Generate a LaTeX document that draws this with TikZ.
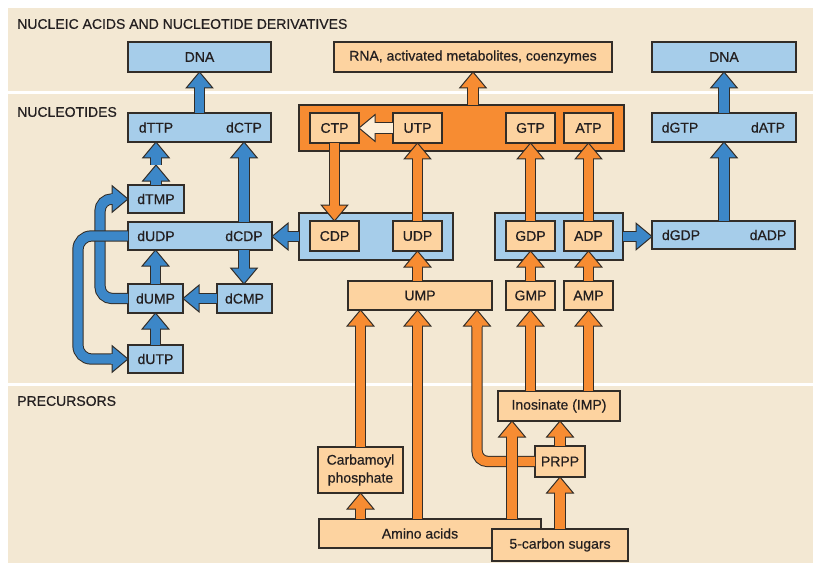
\documentclass[tikz,border=0pt]{standalone}
\usepackage{fontspec}
\setmainfont{Liberation Sans}[BoldFont={Liberation Sans}, BoldFeatures={FakeBold=0.6}]
\usetikzlibrary{calc}
\definecolor{bgc}{RGB}{243,232,211}
\definecolor{lb}{RGB}{166,205,234}
\definecolor{ab}{RGB}{60,135,200}
\definecolor{lo}{RGB}{253,211,160}
\definecolor{ao}{RGB}{247,140,50}
\definecolor{lc}{RGB}{50,45,40}
\definecolor{txt}{RGB}{35,31,32}
\definecolor{cream}{RGB}{253,238,215}
\tikzset{
  shaft/.style={draw=lc, line width=0.75pt, double=#1, double distance=7pt},
  bbox/.style={draw=lc, line width=0.9pt, fill=lb, inner sep=0pt, outer sep=0pt, text=txt, font=\fontsize{10.5}{13.5}\selectfont\bfseries},
  obox/.style={bbox, fill=lo},
  ocbox/.style={bbox, fill=ao},
  lab/.style={inner sep=0pt, text=txt, font=\fontsize{10.5}{13.5}\selectfont\bfseries},
}
\newcommand\bx[7]{%
  \pgfmathsetmacro\bxw{(#5-#3)*0.75}%
  \pgfmathsetmacro\bxh{(#6-#4)*0.75}%
  \node[#2, minimum width=\bxw pt, minimum height=\bxh pt] (#1) at ({(#3+#5)/2},{(#4+#6)/2}) {#7};%
}
\newcommand\headfrom[3]{%
  \coordinate (hS) at #2;
  \coordinate (hT) at #3;
  \coordinate (hb) at ($(hT)!12pt!(hS)$);
  \filldraw[fill=#1, draw=lc, line width=0.75pt, line join=miter]
    ($(hb)!10pt!90:(hT)$) -- (hT) -- ($(hb)!10pt!-90:(hT)$) -- cycle;
  \draw[#1, line width=7pt] ($(hb)!1pt!(hS)$) -- ($(hb)!1.5pt!(hT)$);
}
\newcommand\barr[3]{%
  \coordinate (aS) at #2;
  \coordinate (aT) at #3;
  \draw[shaft=#1] (aS) -- ($(aT)!11.5pt!(aS)$);
  \headfrom{#1}{(aS)}{(aT)}
}
\begin{document}
\begin{tikzpicture}[x=0.75pt, y=-0.75pt]
\useasboundingbox (0,0) rectangle (813,563);
\fill[white] (0,0) rectangle (813,563);
\fill[bgc] (8,8) rectangle (813,563);
\fill[white] (8,91.5) rectangle (813,94.5);
\fill[white] (8,383) rectangle (813,386);
\node[lab, anchor=west] (h1) at (17,24) {NUCLEIC ACIDS AND NUCLEOTIDE DERIVATIVES};
\node[lab, anchor=west] (h2) at (17,112) {NUCLEOTIDES};
\node[lab, anchor=west] (h3) at (17,401) {PRECURSORS};
% top row
\bx{dnaL}{bbox}{128}{42}{271}{72}{DNA}
\bx{rna}{obox}{334}{42}{612}{72}{RNA, activated metabolites, coenzymes}
\bx{dnaR}{bbox}{652}{42}{796}{72}{DNA}
% nucleotides
\bx{ntpL}{bbox}{128}{113}{271}{142}{}
\node[lab] (dTTP) at (156,127.5) {dTTP};
\node[lab] (dCTP) at (244,127.5) {dCTP};
\bx{oc}{ocbox}{299}{105}{624}{151}{}
\bx{CTP}{obox}{310}{113}{359}{143}{CTP}
\bx{UTP}{obox}{393}{113}{442}{143}{UTP}
\bx{GTP}{obox}{506}{113}{555}{143}{GTP}
\bx{ATP}{obox}{564}{113}{613}{143}{ATP}
\bx{ntpR}{bbox}{652}{113}{796}{142}{}
\node[lab] (dGTP) at (680,127.5) {dGTP};
\node[lab] (dATP) at (768,127.5) {dATP};
\bx{dTMP}{bbox}{128}{185}{184}{213}{dTMP}
\bx{ndpL}{bbox}{128}{222}{272}{250}{}
\node[lab] (dUDP) at (156,236) {dUDP};
\node[lab] (dCDP) at (244,236) {dCDP};
\bx{cu}{bbox}{299}{213}{453}{260}{}
\bx{CDP}{obox}{310}{221}{359}{251}{CDP}
\bx{UDP}{obox}{393}{221}{442}{251}{UDP}
\bx{ga}{bbox}{495}{213}{623}{260}{}
\bx{GDP}{obox}{506}{221}{555}{251}{GDP}
\bx{ADP}{obox}{564}{221}{613}{251}{ADP}
\bx{ndpR}{bbox}{652}{221}{795}{249}{}
\node[lab] (dGDP) at (681,235) {dGDP};
\node[lab] (dADP) at (768,235) {dADP};
\bx{dUMP}{bbox}{128}{284}{183}{313}{dUMP}
\bx{dCMP}{bbox}{217}{284}{272}{313}{dCMP}
\bx{UMP}{obox}{348}{281}{492}{310}{UMP}
\bx{GMP}{obox}{506}{281}{555}{310}{GMP}
\bx{AMP}{obox}{564}{281}{613}{310}{AMP}
\bx{dUTP}{bbox}{128}{345}{183}{373}{dUTP}
% precursors
\bx{ino}{obox}{498}{391}{620}{421}{Inosinate (IMP)}
\bx{carb}{obox, align=center}{318}{447}{403}{493}{Carbamoyl\\phosphate}
\bx{prpp}{obox}{535}{446}{585}{477}{PRPP}
\bx{amino}{obox}{319}{519}{541}{548}{}
\node[lab] (aatxt) at (420,533.5) {Amino acids};
\bx{sugars}{obox}{492}{529}{628}{561}{5-carbon sugars}
% helper coordinates
\coordinate (oL) at (78,0);
\coordinate (iL) at (100,0);
\coordinate (pL) at (477,0);
\coordinate (aI) at (512,0);
\coordinate (tm) at (156,165);
% blue arrows
\barr{ab}{(ntpL.north)}{(dnaL.south)}
\barr{ab}{(ntpR.north)}{(dnaR.south)}
\barr{ab}{(dTMP.north)}{(tm)}
\barr{ab}{(tm)}{(dTTP |- ntpL.south)}
\barr{ab}{(dCDP |- ndpL.north)}{(dCTP |- ntpL.south)}
\barr{ab}{(dCDP |- ndpL.south)}{(dCDP |- dCMP.north)}
\barr{ab}{(dCMP.west)}{(dUMP.east)}
\barr{ab}{(dUMP.north)}{(dUMP |- ndpL.south)}
\barr{ab}{(dUTP.north)}{(dUMP.south)}
\draw[shaft=ab, rounded corners=9pt] (dUMP.west) -- (dUMP.west -| iL) -- (dTMP.west -| iL) -- ($(dTMP.west)!11.5pt!(dTMP.west -| iL)$);
\headfrom{ab}{(dTMP.west -| iL)}{(dTMP.west)}
\draw[shaft=ab, rounded corners=10pt] (ndpL.west) -- (ndpL.west -| oL) -- (dUTP.west -| oL) -- ($(dUTP.west)!11.5pt!(dUTP.west -| oL)$);
\headfrom{ab}{(dUTP.west -| oL)}{(dUTP.west)}
\barr{ab}{(cu.west)}{(ndpL.east |- cu.west)}
\barr{ab}{(ga.east)}{(ndpR.west |- ga.east)}
\barr{ab}{(ntpR.south |- ndpR.north)}{(ntpR.south)}
% orange arrows
\barr{ao}{(rna.south |- oc.north)}{(rna.south)}
\barr{ao}{(CTP.south)}{(CDP.north)}
\barr{ao}{(UDP.north)}{(UTP.south)}
\barr{ao}{(GDP.north)}{(GTP.south)}
\barr{ao}{(ADP.north)}{(ATP.south)}
\barr{ao}{(UDP |- UMP.north)}{(UDP.south)}
\barr{ao}{(GMP.north)}{(GDP.south)}
\barr{ao}{(AMP.north)}{(ADP.south)}
\barr{ao}{(GMP |- ino.north)}{(GMP.south)}
\barr{ao}{(AMP |- ino.north)}{(AMP.south)}
\barr{ao}{(carb.north)}{(carb.north |- UMP.south)}
\barr{ao}{(carb |- amino.north)}{(carb.south)}
\barr{ao}{(UDP |- amino.north)}{(UDP |- UMP.south)}
\draw[shaft=ao, rounded corners=8pt] (prpp.west) -- (prpp.west -| pL) -- ($(pL |- UMP.south)!11.5pt!(prpp.west -| pL)$);
\headfrom{ao}{(prpp.west -| pL)}{(pL |- UMP.south)}
\barr{ao}{(aI |- amino.north)}{(aI |- ino.south)}
\barr{ao}{(prpp.north)}{(prpp |- ino.south)}
\barr{ao}{(prpp |- sugars.north)}{(prpp.south)}
\barr{cream}{(UTP.west)}{(CTP.east)}
\end{tikzpicture}
\end{document}
